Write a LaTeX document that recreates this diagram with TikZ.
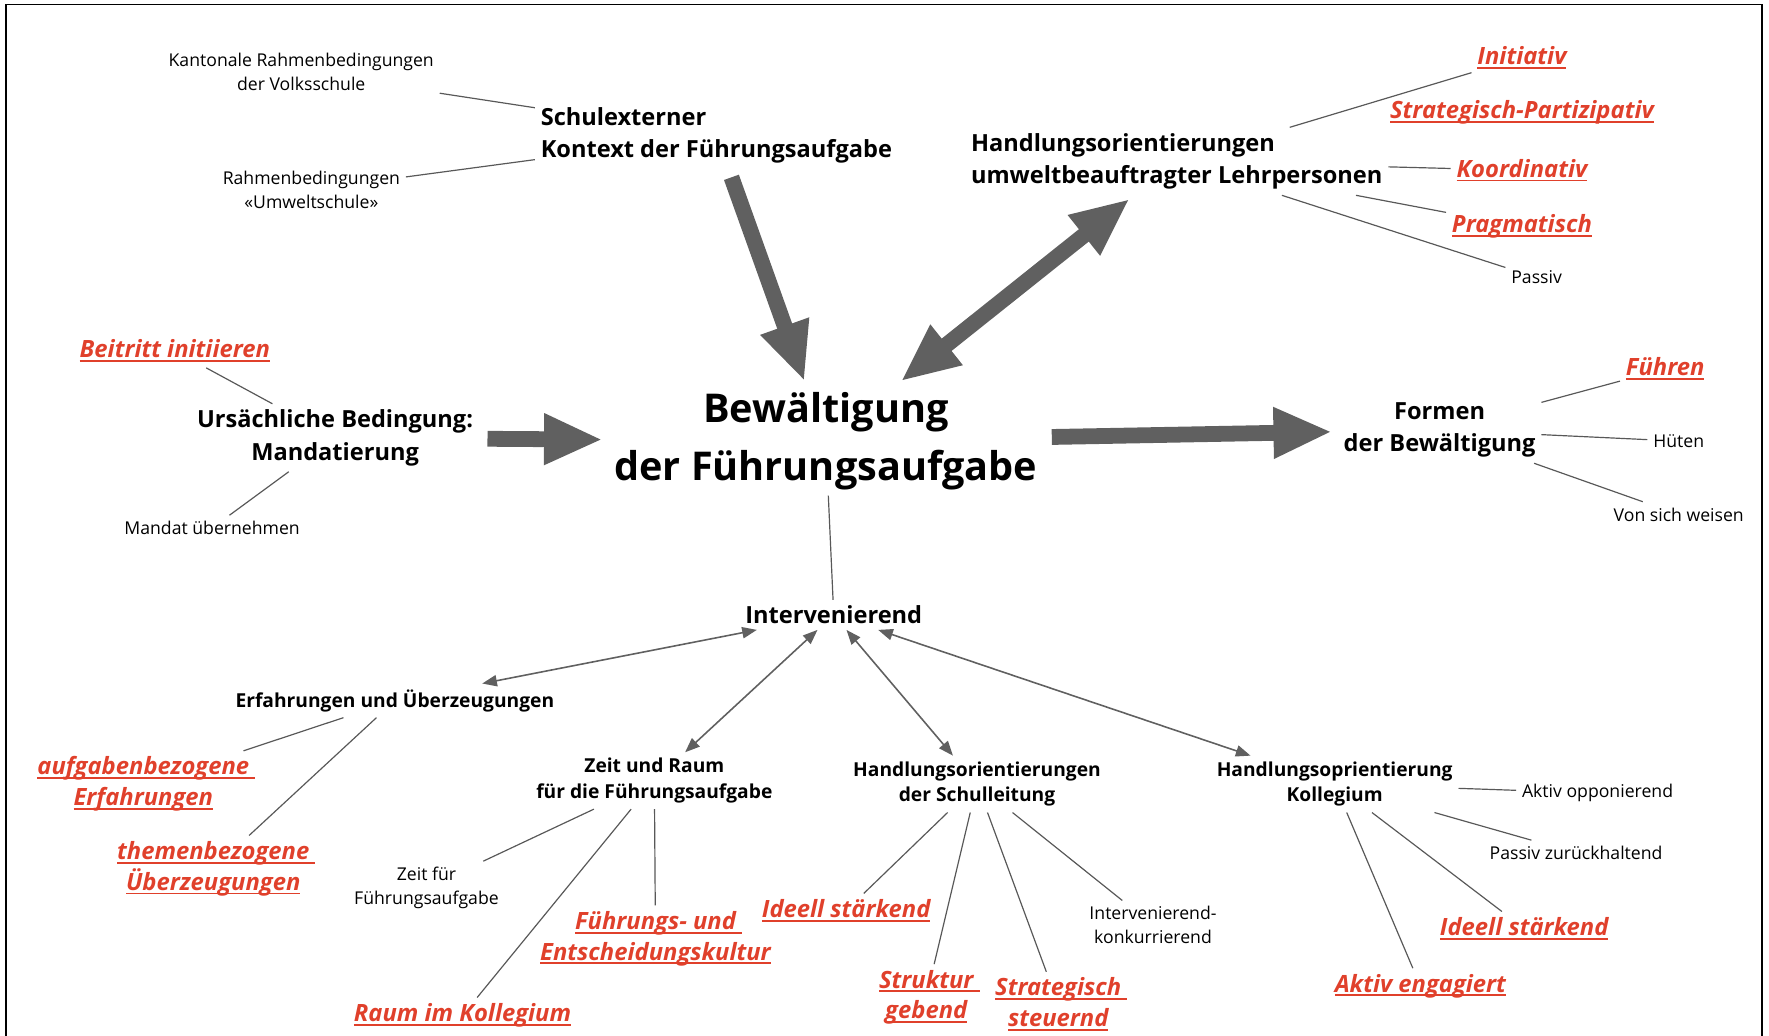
\documentclass[tikz,border=0pt]{standalone}
\usepackage{fontspec}
\setmainfont{Open Sans}
\usetikzlibrary{arrows.meta}
\definecolor{codered}{HTML}{E0402B}
\definecolor{fatgray}{HTML}{606060}
\definecolor{twiggray}{HTML}{585858}
\newlength{\ulwidth}
\newcommand{\codeul}[1]{\settowidth{\ulwidth}{#1}\rlap{\rule[-0.17em]{\ulwidth}{0.075em}}#1}

\begin{document}
\begin{tikzpicture}[
  x=0.02cm, y=-0.02cm,
  >={Triangle[length=2.6mm, width=2mm]},
  title/.style={font=\fontsize{20}{29}\selectfont\bfseries, align=center, inner sep=2.8pt},
  head/.style={font=\fontsize{11.9}{16.4}\selectfont\bfseries, align=center, inner sep=2.8pt},
  sub/.style={font=\fontsize{9.7}{13}\selectfont\bfseries, align=center, inner sep=2.8pt},
  note/.style={font=\fontsize{8.9}{12}\selectfont, align=center, inner sep=2.8pt},
  hit/.style={font=\fontsize{12}{15.5}\selectfont\bfseries\itshape, text=codered,
              align=center, inner sep=2.8pt},
  twig/.style={draw=twiggray, line width=0.6pt},
  link/.style={<->, draw=fatgray, line width=0.8pt},
  bigarrow/.style={draw=fatgray, line width=0.28cm,
                   -{Triangle[length=10.4mm, width=8.4mm]},
                   shorten <=1.5mm, shorten >=1mm},
  bigboth/.style={bigarrow, {Triangle[length=10.4mm, width=8.4mm]}-{Triangle[length=10.4mm, width=8.4mm]}},
]
\useasboundingbox (0,0) rectangle (1568,918);
% frame (open at the bottom)
\draw[line width=1pt] (5,918) -- (5,4) -- (1562,4) -- (1562,918);

% ---- centre ----
\node[title] (ziel) at (732,391) {Bewältigung\\der Führungsaufgabe};

% ---- schulexterner Kontext ----
\node[head, align=left] (kontext) at (635,120) {Schulexterner\\Kontext der Führungsaufgabe};
\node[note] (kanton) at (267,64) {Kantonale Rahmenbedingungen\\der Volksschule};
\node[note] (umwelt) at (276,168) {Rahmenbedingungen\\«Umweltschule»};

% ---- Handlungsorientierungen LP ----
\node[head, align=left] (hlp) at (1043,143) {Handlungsorientierungen\\umweltbeauftragter Lehrpersonen};
\node[hit] (initiativ) at (1349,51) {\codeul{Initiativ}};
\node[hit] (partizip) at (1349,100) {\codeul{Strategisch-Partizipativ}};
\node[hit] (koord) at (1349,151) {\codeul{Koordinativ}};
\node[hit] (pragma) at (1349,201) {\codeul{Pragmatisch}};
\node[note] (passiv) at (1362,246) {Passiv};

% ---- Mandatierung ----
\node[head] (mandat) at (297,388) {Ursächliche Bedingung:\\Mandatierung};
\node[hit] (beitritt) at (155,311) {\codeul{Beitritt initiieren}};
\node[note] (uebernahme) at (188,468) {Mandat übernehmen};

% ---- Formen ----
\node[head] (formen) at (1276,381) {Formen\\der Bewältigung};
\node[hit] (fuehren) at (1476,327) {\codeul{Führen}};
\node[note] (hueten) at (1488,391) {Hüten};
\node[note] (weisen) at (1488,456) {Von sich weisen};

% ---- intervenierende Bedingungen ----
\node[head] (interv) at (739,545) {Intervenierend};
\node[sub] (erfahr) at (350,621) {Erfahrungen und Überzeugungen};
\node[hit] (aufgab) at (127,695) {\codeul{aufgabenbezogene\ }\\\codeul{Erfahrungen}};
\node[hit] (themen) at (189,770) {\codeul{themenbezogene\ }\\\codeul{Überzeugungen}};

\node[sub] (zeitraum) at (580,692) {Zeit und Raum\\für die Führungsaufgabe};
\node[note] (zeitfuer) at (378,787) {Zeit für\\Führungsaufgabe};
\node[hit] (raum) at (410,900) {\codeul{Raum im Kollegium}};
\node[hit] (kultur) at (581,832) {\codeul{Führungs- und\ }\\\codeul{Entscheidungskultur}};

\node[sub] (sl) at (866,695) {Handlungsorientierungen\\der Schulleitung};
\node[hit] (ideellsl) at (750,807) {\codeul{Ideell stärkend}};
\node[hit] (struktur) at (821,884) {\codeul{Struktur\ }\\\codeul{gebend}};
\node[hit] (steuernd) at (938,890) {\codeul{Strategisch\ }\\\codeul{steuernd}};
\node[note] (konkurr) at (1022,820) {Intervenierend-\\konkurrierend};

\node[sub] (koll) at (1183,695) {Handlungsoprientierung\\Kollegium};
\node[note] (opponier) at (1416,703) {Aktiv opponierend};
\node[note] (zurueck) at (1397,756) {Passiv zurückhaltend};
\node[hit] (ideellko) at (1351,823) {\codeul{Ideell stärkend}};
\node[hit] (engagiert) at (1259,874) {\codeul{Aktiv engagiert}};

% ---- fat arrows ----
\draw[bigarrow] (kontext) -- (ziel);
\draw[bigboth] (ziel) -- (hlp);
\draw[bigarrow] (mandat) -- (ziel);
\draw[bigarrow] (ziel) -- (formen);

% ---- twigs ----
\foreach \leaf in {kanton,umwelt}
  \draw[twig] (kontext) -- (\leaf);
\foreach \leaf in {initiativ,koord,pragma,passiv}
  \draw[twig] (hlp) -- (\leaf);
\foreach \leaf in {beitritt,uebernahme}
  \draw[twig] (mandat) -- (\leaf);
\foreach \leaf in {fuehren,hueten,weisen}
  \draw[twig] (formen) -- (\leaf);
\draw[twig] (ziel) -- (interv);
\foreach \leaf in {aufgab,themen}
  \draw[twig] (erfahr) -- (\leaf);
\foreach \leaf in {zeitfuer,raum,kultur}
  \draw[twig] (zeitraum) -- (\leaf);
\foreach \leaf in {ideellsl,struktur,steuernd,konkurr}
  \draw[twig] (sl) -- (\leaf);
\foreach \leaf in {opponier,zurueck,ideellko,engagiert}
  \draw[twig] (koll) -- (\leaf);

% ---- intervenierend <-> sub-conditions ----
\foreach \cond in {erfahr,zeitraum,sl,koll}
  \draw[link] (interv) -- (\cond);
\end{tikzpicture}
\end{document}
